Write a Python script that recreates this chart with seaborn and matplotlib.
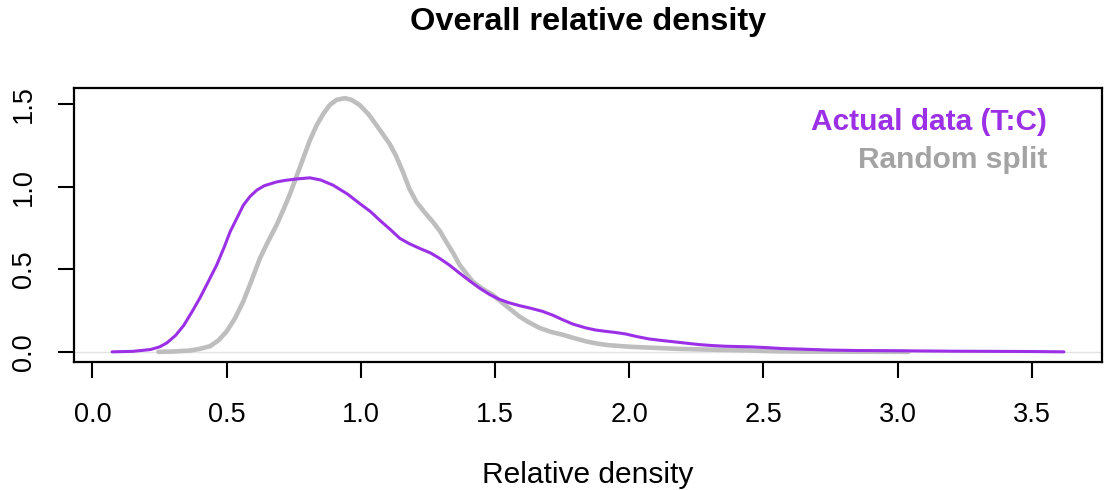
import numpy as np
import pandas as pd
import matplotlib
matplotlib.use("Agg")
import matplotlib.pyplot as plt
import seaborn as sns

# ---- data ----
actual_x = [0.073, 0.15, 0.216, 0.25, 0.277, 0.31, 0.34, 0.37, 0.40, 0.43, 0.463, 0.49, 0.513,
            0.54, 0.562, 0.587, 0.612, 0.64, 0.686, 0.72, 0.761, 0.81, 0.85, 0.897, 0.95, 0.996,
            1.035, 1.07, 1.11, 1.145, 1.18, 1.219, 1.26, 1.293, 1.33, 1.368, 1.405, 1.442, 1.48,
            1.516, 1.55, 1.59, 1.63, 1.677, 1.715, 1.751, 1.79, 1.838, 1.875, 1.913, 1.95, 1.987,
            2.03, 2.074, 2.12, 2.16, 2.21, 2.26, 2.31, 2.358, 2.457, 2.52, 2.569, 2.65, 2.74,
            2.85, 2.95, 3.04, 3.2, 3.35, 3.5, 3.62]
actual_y = [0.000, 0.003, 0.014, 0.030, 0.054, 0.10, 0.16, 0.24, 0.325, 0.42, 0.526, 0.63, 0.727,
            0.815, 0.887, 0.940, 0.978, 1.005, 1.028, 1.038, 1.046, 1.053, 1.04, 1.008, 0.955, 0.897,
            0.85, 0.797, 0.74, 0.687, 0.655, 0.626, 0.598, 0.566, 0.525, 0.476, 0.43, 0.386, 0.347,
            0.318, 0.298, 0.280, 0.265, 0.245, 0.222, 0.195, 0.168, 0.145, 0.132, 0.124, 0.117, 0.108,
            0.092, 0.078, 0.069, 0.062, 0.053, 0.044, 0.038, 0.034, 0.030, 0.025, 0.020, 0.016, 0.011,
            0.008, 0.007, 0.006, 0.004, 0.003, 0.002, 0.000]

random_x = [0.246, 0.30, 0.364, 0.40, 0.438, 0.47, 0.50, 0.53, 0.562, 0.59, 0.624, 0.655, 0.686,
            0.71, 0.736, 0.76, 0.785, 0.81, 0.835, 0.86, 0.885, 0.91, 0.94, 0.965, 0.996,
            1.03, 1.058, 1.085, 1.107, 1.13, 1.157, 1.18, 1.207, 1.24, 1.268, 1.295, 1.318, 1.345,
            1.368, 1.395, 1.417, 1.455, 1.491, 1.54, 1.59, 1.625, 1.665, 1.71, 1.751, 1.795, 1.838,
            1.88, 1.925, 2.011, 2.098, 2.184, 2.284, 2.407, 2.532, 2.63, 2.8, 3.04]
random_y = [0.000, 0.002, 0.008, 0.018, 0.034, 0.07, 0.124, 0.20, 0.305, 0.42, 0.566, 0.67, 0.767,
            0.855, 0.955, 1.06, 1.17, 1.28, 1.37, 1.44, 1.495, 1.525, 1.535, 1.525, 1.493,
            1.435, 1.372, 1.31, 1.259, 1.19, 1.088, 0.99, 0.907, 0.84, 0.787, 0.73, 0.666, 0.595,
            0.526, 0.47, 0.425, 0.38, 0.345, 0.28, 0.215, 0.18, 0.145, 0.12, 0.104, 0.083, 0.064,
            0.05, 0.040, 0.030, 0.024, 0.018, 0.014, 0.010, 0.004, 0.002, 0.001, 0.000]

series_names = ["Actual data (T:C)", "Random split"]
x_ticks = [0.0, 0.5, 1.0, 1.5, 2.0, 2.5, 3.0, 3.5]
y_ticks = [0.0, 0.5, 1.0, 1.5]
title = "Overall relative density"
x_label = "Relative density"

PURPLE = "#9B30E6"
GRAY_LINE = "#BEBEBE"
GRAY_TEXT = "#A3A3A3"

sns.set_theme(style="white")
plt.rcParams["font.family"] = ["Liberation Sans", "DejaVu Sans"]

fig = plt.figure(figsize=(11.08, 4.90), dpi=100)
ax = fig.add_axes([74 / 1108, 1 - 362 / 490, (1102 - 74) / 1108, (362 - 88) / 490])

ax.axhline(0, color="#E3E3E3", lw=1.0, zorder=1)

df_r = pd.DataFrame({"x": random_x, "y": random_y})
df_a = pd.DataFrame({"x": actual_x, "y": actual_y})
sns.lineplot(data=df_r, x="x", y="y", ax=ax, color=GRAY_LINE, lw=3.3,
             estimator=None, sort=False, zorder=2)
sns.lineplot(data=df_a, x="x", y="y", ax=ax, color=PURPLE, lw=2.2,
             estimator=None, sort=False, zorder=3)

xmin, xmax = min(actual_x + random_x), max(actual_x + random_x)
xr = xmax - xmin
ax.set_xlim(xmin - 0.04 * xr, xmax + 0.04 * xr)
ymax = max(actual_y + random_y)
ax.set_ylim(-0.04 * ymax, ymax * 1.04)

ax.set_xticks(x_ticks)
ax.set_xticklabels([f"{v:.1f}" for v in x_ticks], fontsize=19.5)
ax.set_yticks(y_ticks)
ax.set_yticklabels([f"{v:.1f}" for v in y_ticks], fontsize=19.5, rotation=90, va="center")

ax.tick_params(axis="both", which="major", direction="out", length=11.5, width=1.5,
               color="black", labelcolor="black", bottom=True, left=True)
ax.tick_params(axis="x", pad=17)
ax.tick_params(axis="y", pad=15)

for s in ax.spines.values():
    s.set_visible(True)
    s.set_color("black")
    s.set_linewidth(1.6)

ax.set_xlabel(x_label, fontsize=21.5, labelpad=24, color="black")
ax.set_ylabel("")

ax.text(0.9465, 0.877, series_names[0], transform=ax.transAxes, ha="right", va="center",
        fontsize=21.5, fontweight="bold", color=PURPLE)
ax.text(0.9465, 0.737, series_names[1], transform=ax.transAxes, ha="right", va="center",
        fontsize=21.5, fontweight="bold", color=GRAY_TEXT)

fig.text(588 / 1108, 1 - 22 / 490, title, ha="center", va="center",
         fontsize=23.4, fontweight="bold", color="black")

fig.savefig("out.png", dpi=100, facecolor="white")
